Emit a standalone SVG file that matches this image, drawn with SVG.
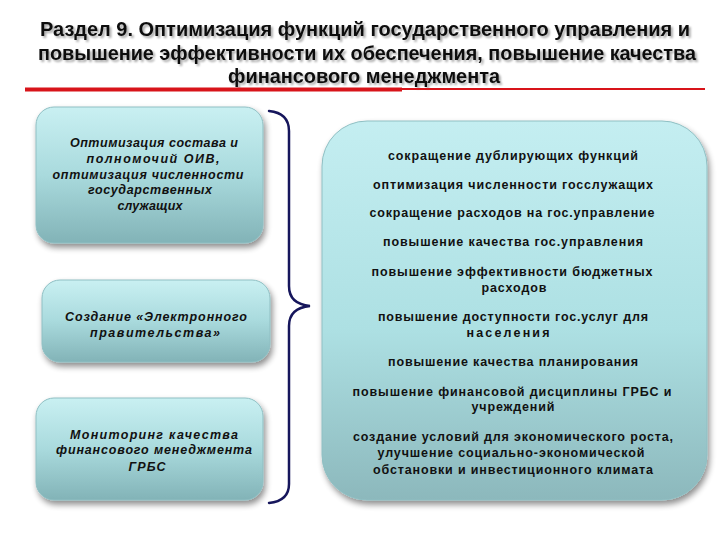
<svg xmlns="http://www.w3.org/2000/svg" width="720" height="540" viewBox="0 0 720 540">
<defs>
<linearGradient id="gL" x1="0" y1="0" x2="0" y2="1">
<stop offset="0" stop-color="#c9f0f2"/>
<stop offset="0.5" stop-color="#a9dadd"/>
<stop offset="1" stop-color="#82b3b7"/>
</linearGradient>
<linearGradient id="gR" x1="0" y1="0" x2="0" y2="1">
<stop offset="0" stop-color="#c4eef1"/>
<stop offset="0.55" stop-color="#ade0e3"/>
<stop offset="1" stop-color="#8cb8bc"/>
</linearGradient>
<filter id="sh" x="-10%" y="-10%" width="125%" height="130%">
<feGaussianBlur in="SourceAlpha" stdDeviation="3"/>
<feOffset dx="2" dy="4" result="b"/>
<feComponentTransfer><feFuncA type="linear" slope="0.45"/></feComponentTransfer>
<feMerge><feMergeNode/><feMergeNode in="SourceGraphic"/></feMerge>
</filter>
<filter id="tsh" x="-5%" y="-20%" width="110%" height="150%">
<feGaussianBlur in="SourceAlpha" stdDeviation="0.8"/>
<feOffset dx="1.5" dy="1.5"/>
<feComponentTransfer><feFuncA type="linear" slope="0.35"/></feComponentTransfer>
<feMerge><feMergeNode/><feMergeNode in="SourceGraphic"/></feMerge>
</filter>
</defs>
<style>
.title{font-family:"Liberation Sans Narrow","Liberation Sans",Arial,sans-serif;font-weight:bold;font-size:20px;fill:#111;text-anchor:middle}
.lt{font-family:"Liberation Sans",Arial,sans-serif;font-weight:bold;font-style:italic;font-size:12.5px;fill:#111;text-anchor:middle}
.rt{font-family:"Liberation Sans",Arial,sans-serif;font-weight:bold;font-size:12.5px;fill:#111;text-anchor:middle}
.box{stroke:#8fbfc3;stroke-width:1;filter:url(#sh)}
.brace{fill:none;stroke:#16165c;stroke-width:2.5;stroke-linecap:round}
</style>
<rect width="720" height="540" fill="#ffffff"/>
<g id="title" filter="url(#tsh)">
<text class="title" x="365" y="36" textLength="650" lengthAdjust="spacingAndGlyphs">Раздел 9. Оптимизация функций государственного управления и</text>
<text class="title" x="367" y="60" textLength="658" lengthAdjust="spacingAndGlyphs">повышение эффективности их обеспечения, повышение качества</text>
<text class="title" x="364" y="83" textLength="272" lengthAdjust="spacingAndGlyphs">финансового менеджмента</text>
</g>
<g id="rule">
<rect x="25" y="88" width="680" height="2" fill="#d8141a"/>
<rect x="25" y="87.5" width="377" height="4" fill="#d8141a"/>
</g>
<g id="node1">
<rect class="box" x="36" y="107" width="227" height="136" rx="18" fill="url(#gL)"/>
<text class="lt" x="154" y="147" textLength="168">Оптимизация состава и</text>
<text class="lt" x="153" y="163" textLength="133">полномочий ОИВ,</text>
<text class="lt" x="148" y="179" textLength="191">оптимизация численности</text>
<text class="lt" x="150" y="194" textLength="124">государственных</text>
<text class="lt" x="150" y="210" textLength="65">служащих</text>
</g>
<g id="node2">
<rect class="box" x="42" y="280" width="228" height="82" rx="18" fill="url(#gL)"/>
<text class="lt" x="156" y="321" textLength="182">Создание «Электронного</text>
<text class="lt" x="155" y="337" textLength="130">правительства»</text>
</g>
<g id="node3">
<rect class="box" x="36" y="398" width="227" height="102" rx="18" fill="url(#gL)"/>
<text class="lt" x="154" y="439" textLength="168">Мониторинг качества</text>
<text class="lt" x="154" y="454" textLength="196">финансового менеджмента</text>
<text class="lt" x="147" y="471" textLength="37">ГРБС</text>
</g>
<g id="connectors">
<path class="brace" d="M269,111 Q289,113 289,131 L289,286 Q289,304 310,306 Q289,308 289,326 L289,484 Q289,501 269,503"/>
</g>
<g id="node4">
<rect class="box" x="322" y="121" width="385" height="379" rx="45" fill="url(#gR)"/>
<text class="rt" x="513" y="160" textLength="250">сокращение дублирующих функций</text>
<text class="rt" x="513" y="189" textLength="280">оптимизация численности госслужащих</text>
<text class="rt" x="512" y="217" textLength="285">сокращение расходов на гос.управление</text>
<text class="rt" x="513" y="246" textLength="260">повышение качества гос.управления</text>
<text class="rt" x="512" y="276" textLength="281">повышение эффективности бюджетных</text>
<text class="rt" x="514" y="292" textLength="65">расходов</text>
<text class="rt" x="513" y="321" textLength="270">повышение доступности гос.услуг для</text>
<text class="rt" x="508" y="337" textLength="83">населения</text>
<text class="rt" x="513" y="366" textLength="250">повышение качества планирования</text>
<text class="rt" x="512" y="396" textLength="319">повышение финансовой дисциплины ГРБС и</text>
<text class="rt" x="513" y="411" textLength="83">учреждений</text>
<text class="rt" x="513" y="441" textLength="320">создание условий для экономического роста,</text>
<text class="rt" x="511" y="457" textLength="267">улучшение социально-экономической</text>
<text class="rt" x="513" y="474" textLength="280">обстановки и инвестиционного климата</text>
</g>
</svg>
